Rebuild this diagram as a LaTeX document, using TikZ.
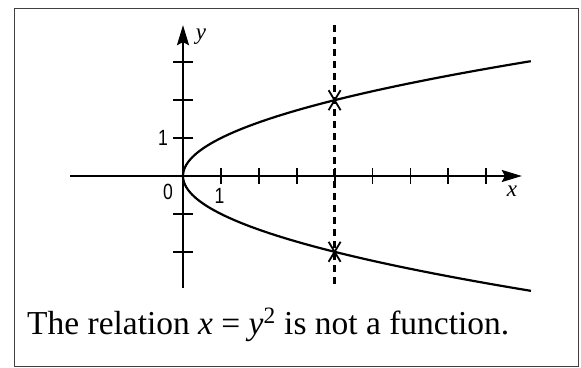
\documentclass[tikz,border=0pt]{standalone}
\usepackage{fontspec}
\setmainfont{Liberation Serif}
\newfontfamily\ticksans{Liberation Sans}
\usetikzlibrary{arrows.meta}
\begin{document}
\begin{tikzpicture}[x=1pt,y=-1pt,
  frame/.style={draw=black!75, line width=1.5pt, inner sep=0pt},
  axisline/.style={line width=2pt, -{Stealth[length=20pt,width=12pt,inset=3pt]}},
  tickmark/.style={line width=1.8pt},
  curve/.style={line width=2.2pt},
  dashline/.style={line width=2.6pt, dash pattern=on 7pt off 5pt},
  crossmark/.style={line width=1.8pt},
  ticklabel/.style={font=\ticksans\fontsize{22}{22}\selectfont, inner sep=0pt},
  axislabel/.style={font=\itshape\fontsize{23}{23}\selectfont, inner sep=0pt}]
\useasboundingbox (0,0) rectangle (581,367);
\node[frame, minimum width=564pt, minimum height=358pt, anchor=north west] (frame) at (13.5,7.5) {};
\begin{scope}[shift={(183,176)}, x=37.9pt, y=37.9pt]
  \coordinate (xl) at (-2.98,0);
  \coordinate (xr) at (8.94,0);
  \coordinate (yb) at (0,-2.96);
  \coordinate (yt) at (0,3.98);
  \coordinate (dt) at (4,3.98);
  \coordinate (db) at (4,-2.97);
  \coordinate (p1) at (4,2);
  \coordinate (p2) at (4,-2);
  \draw[axisline] (xl) -- (xr);
  \draw[axisline] (yb) -- (yt);
  \foreach \i in {1,...,8} \draw[tickmark] (\i,-0.21) -- (\i,0.21);
  \foreach \j in {-2,-1,1,2,3} \draw[tickmark] (-0.26,\j) -- (0.26,\j);
  \draw[curve, domain=-3.03:3.03, samples=101, smooth, variable=\t] plot ({\t*\t},\t);
  \draw[dashline] (dt) -- (db);
  \foreach \p in {p1,p2} {
    \draw[crossmark] ([shift={(-6pt,10pt)}]\p) -- ([shift={(6pt,-10pt)}]\p);
    \draw[crossmark] ([shift={(-6pt,-10pt)}]\p) -- ([shift={(6pt,10pt)}]\p);
  }
\end{scope}
\node[axislabel] (ylab) at (201,37) {y};
\node[axislabel] (xlab) at (512,191) {x};
\node[ticklabel] (y1) at (163,138) {\scalebox{0.8}[1]{1}};
\node[ticklabel] (o) at (168,192) {\scalebox{0.8}[1]{0}};
\node[ticklabel] (x1) at (219.5,196) {\scalebox{0.8}[1]{1}};
\node[anchor=base west, inner sep=0pt] (caption) at (27,334)
  {\resizebox{482pt}{!}{\fontsize{28}{28}\selectfont The relation \textit{x} = \textit{y}\textsuperscript{2} is not a function.}};
\end{tikzpicture}
\end{document}
